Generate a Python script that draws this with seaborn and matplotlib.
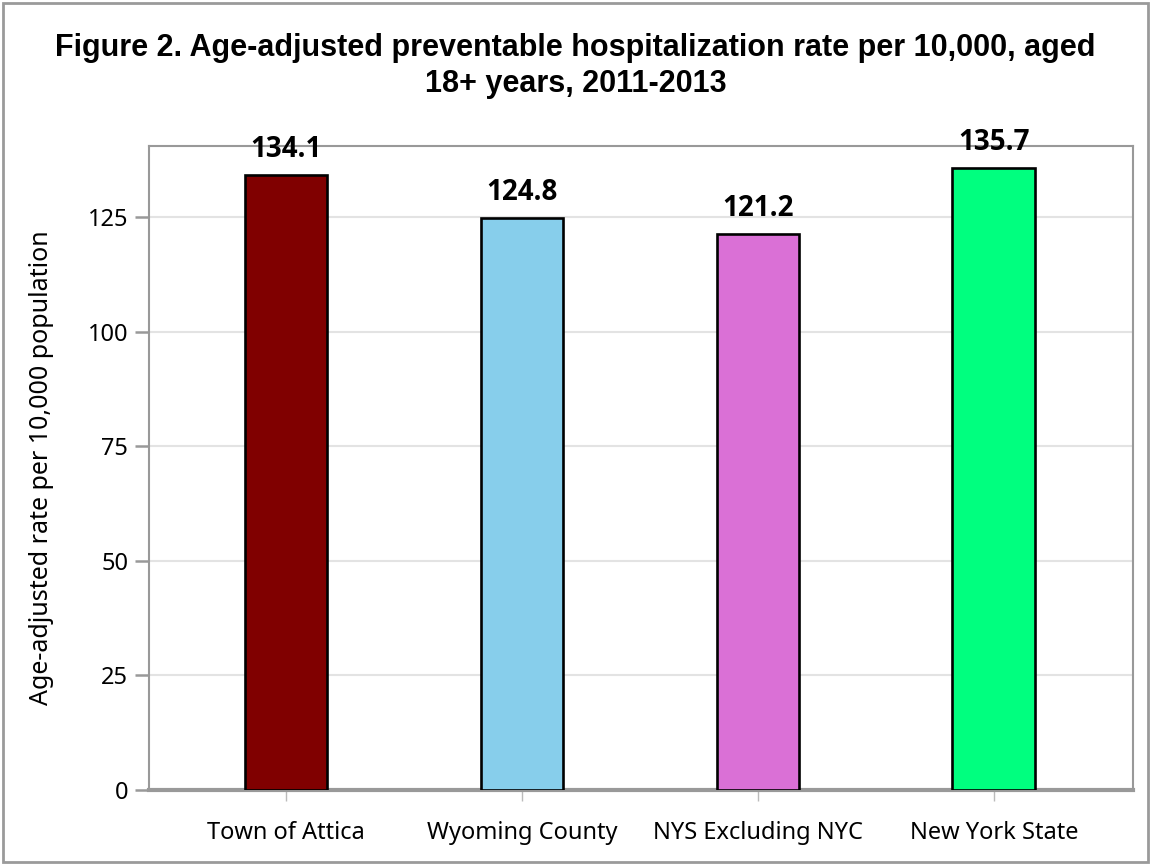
import matplotlib
matplotlib.use("Agg")
import matplotlib.pyplot as plt
import seaborn as sns
import pandas as pd
from matplotlib.patches import Rectangle

categories = ["Town of Attica", "Wyoming County", "NYS Excluding NYC", "New York State"]
values = [134.1, 124.8, 121.2, 135.7]
colors = ["#800000", "#87CEEB", "#DA70D6", "#00FF7F"]
yticks = [0, 25, 50, 75, 100, 125]
title = "Figure 2. Age-adjusted preventable hospitalization rate per 10,000, aged\n18+ years, 2011-2013"
ylabel = "Age-adjusted rate per 10,000 population"

sns.set_theme(style="white")
plt.rcParams["font.family"] = ["Noto Sans", "DejaVu Sans"]
plt.rcParams["text.color"] = "black"
plt.rcParams["axes.labelcolor"] = "black"
plt.rcParams["xtick.labelcolor"] = "black"
plt.rcParams["ytick.labelcolor"] = "black"

df = pd.DataFrame({"cat": categories, "val": values})

fig = plt.figure(figsize=(11.51, 8.65), dpi=100)
fig.patch.set_facecolor("white")
fig.add_artist(Rectangle((0.003, 0.003), 0.994, 0.994, transform=fig.transFigure,
                         fill=False, edgecolor="#9a9a9a", linewidth=2))

ax = fig.add_axes([149/1151, 1-790/865, (1133-149)/1151, (790-146)/865])
sns.barplot(data=df, x="cat", y="val", hue="cat", palette=colors, legend=False,
            saturation=1, width=0.35, edgecolor="black", linewidth=1.9, ax=ax, zorder=3)

ax.set_ylim(0, 140.5)
ax.set_xlim(-0.58, 3.59)
ax.set_yticks(yticks)
ax.set_yticklabels([str(t) for t in yticks], fontsize=17)
ax.set_xticks(range(len(categories)))
ax.set_xticklabels(categories, fontsize=17)
ax.yaxis.grid(True, color="#e3e3e3", linewidth=1.5, zorder=0)
ax.set_axisbelow(True)
ax.set_xlabel("")
ax.set_ylabel(ylabel, fontsize=18, labelpad=24)

for s in ["top", "right", "left"]:
    ax.spines[s].set_color("#999999")
    ax.spines[s].set_linewidth(1.5)
ax.spines["bottom"].set_color("#999999")
ax.spines["bottom"].set_linewidth(3)

ax.tick_params(axis="y", which="major", left=True, length=10, width=1.8, color="#999999", pad=5)
ax.tick_params(axis="x", which="major", bottom=True, length=8, width=1, color="#bbbbbb", pad=14)

for i, v in enumerate(values):
    ax.annotate(f"{v:.1f}", (i, v), xytext=(0, 8), textcoords="offset points",
                ha="center", va="bottom", fontsize=20, fontweight="bold",
                family=["Open Sans", "DejaVu Sans"])

fig.text(0.5, 0.924, title, ha="center", va="center", fontsize=22, fontweight="bold",
         family=["Liberation Sans", "DejaVu Sans"], linespacing=1.27)

fig.savefig("out.png", dpi=100)
